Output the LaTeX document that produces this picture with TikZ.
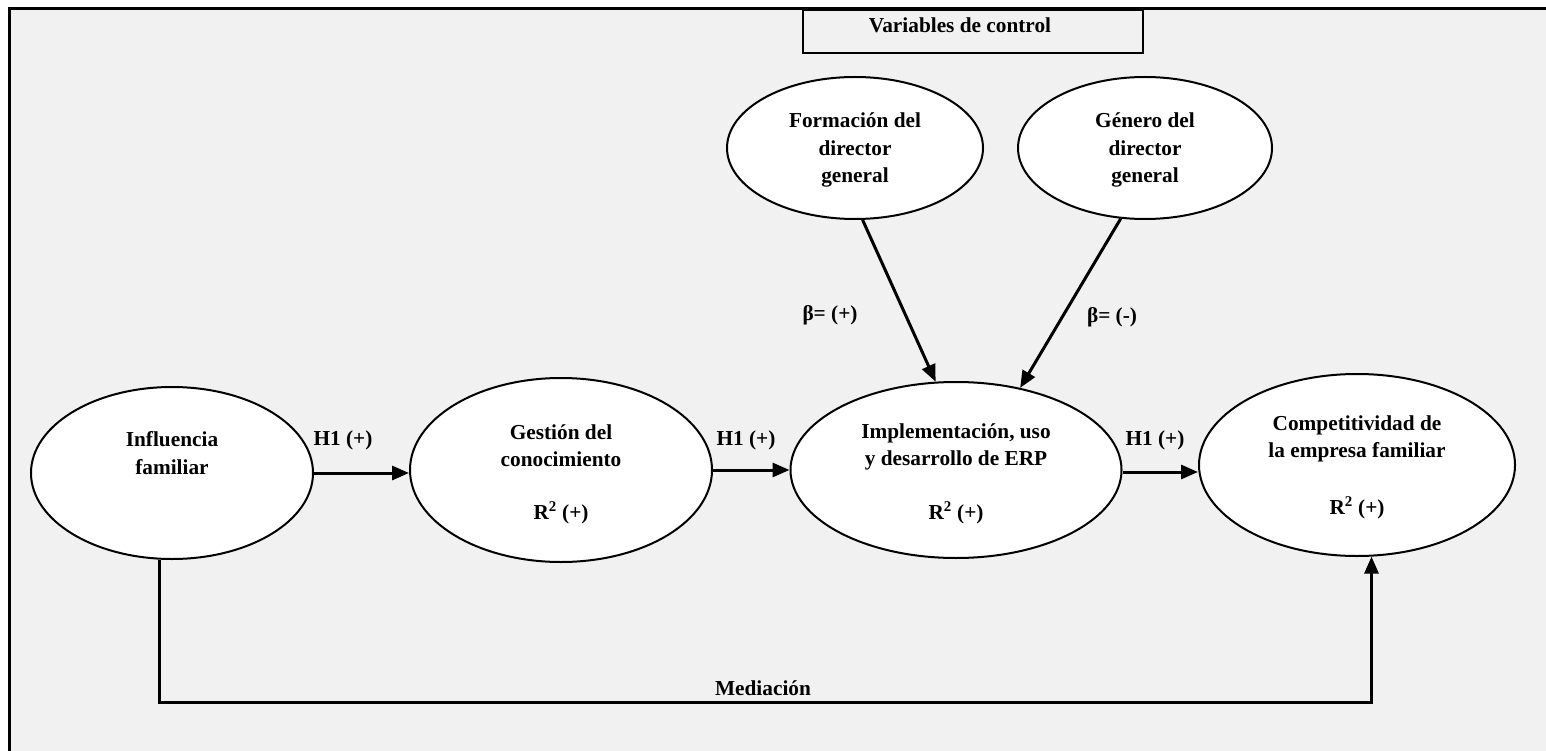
\documentclass[tikz,border=0pt]{standalone}
\usepackage{fontspec}
\setmainfont{Liberation Serif}
\usetikzlibrary{arrows.meta,shapes.geometric}
\definecolor{panel}{HTML}{F1F1F1}
\begin{document}
\begin{tikzpicture}[x=1pt,y=-1pt,
  oval/.style={ellipse,draw,line width=2pt,fill=white,inner sep=0pt},
  lbl/.style={font=\bfseries\fontsize{21.3}{27.5}\selectfont,align=center,inner sep=0pt},
  arr/.style={line width=3pt,-{Triangle[length=17pt,width=14pt]}},
]
\useasboundingbox (0,0) rectangle (1546,751);
% page and framed panel
\fill[white] (0,0) rectangle (1546,751);
\fill[panel] (9.7,8.7) rectangle (1546,751);
\draw[line width=3.2pt] (9.7,751) -- (9.7,8.7) -- (1546,8.7);

% control-variables header
\node[draw,line width=2.8pt,minimum width=340pt,minimum height=43pt,inner sep=0pt] (ctrl) at (973,31.5) {};
\node[lbl] (ctrltxt) at (960,25) {Variables de control};

% constructs
\node[oval,minimum width=282pt,minimum height=172pt] (infl) at (172,473) {};
\node[oval,minimum width=302pt,minimum height=184pt] (gest) at (561,470) {};
\node[oval,minimum width=331pt,minimum height=176pt] (impl) at (956,470) {};
\node[oval,minimum width=316pt,minimum height=182pt] (comp) at (1357,465) {};
\node[oval,minimum width=256pt,minimum height=142pt] (form) at (855,148) {};
\node[oval,minimum width=254pt,minimum height=142pt] (gen) at (1145,148) {};

\node[lbl] (infltxt) at (172,453) {Influencia\\familiar};
\node[lbl] (gesttxt) at (561,445.5) {Gestión del\\conocimiento};
\node[lbl] (gestr) at (561,513) {R\textsuperscript{2} (+)};
\node[lbl] (impltxt) at (956,447) {Implementación, uso\\y desarrollo de ERP};
\node[lbl] (implr) at (956,513) {R\textsuperscript{2} (+)};
\node[lbl] (comptxt) at (1357,439) {Competitividad de\\la empresa familiar};
\node[lbl] (compr) at (1357,508) {R\textsuperscript{2} (+)};
\node[lbl] (formtxt) at (855,150) {Formación del\\director\\general};
\node[lbl] (gentxt) at (1145,150) {Género del\\director\\general};

% hypothesised paths (horizontal, at the height of each source)
\draw[arr] (infl.east) -- (infl.east -| gest.west);
\draw[arr] (gest.east) -- (gest.east -| impl.west);
\draw[arr] ([yshift=-2pt]impl.east) -- ([yshift=-2pt]impl.east -| comp.west);
\node[lbl] (h1a) at (343,440) {H1 (+)};
\node[lbl] (h1b) at (746,440) {H1 (+)};
\node[lbl] (h1c) at (1155,440) {H1 (+)};

% control effects
\draw[arr] (form.-84) -- (impl.103.4);
\draw[arr] (gen.-109) -- (impl.52);
\node[lbl] (bplus) at (830,315) {β= (+)};
\node[lbl] (bminus) at (1112,317) {β= (-)};

% mediation path
\coordinate (medpt) at (763,702);
\draw[arr] (infl.-98) |- (medpt) -| (comp.-81);
\node[lbl] (medtxt) at (763,688) {Mediación};
\end{tikzpicture}
\end{document}
